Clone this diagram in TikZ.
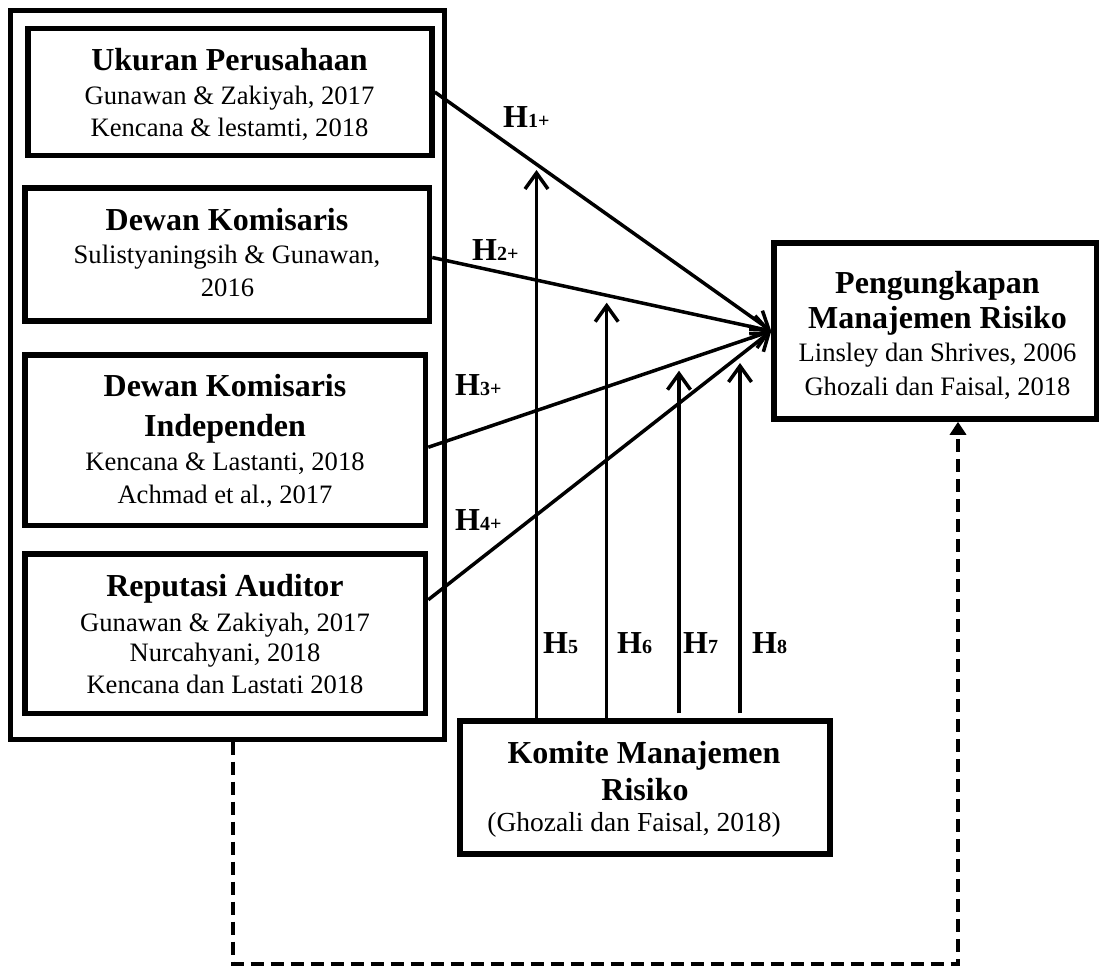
\documentclass[tikz,border=0pt]{standalone}
\usepackage{fontspec}
\setmainfont{Liberation Serif}
\usetikzlibrary{arrows.meta,calc}
\newcommand\TitleFont{\fontsize{32}{38}\selectfont\bfseries}
\newcommand\BodyFont{\fontsize{26.6}{32}\selectfont}
\newcommand\CiteFont{\fontsize{27.5}{32}\selectfont}
\newcommand\SubFont{\fontsize{20}{24}\selectfont\bfseries}
\newcommand\Hlab[1]{H{\SubFont #1}}
\begin{document}
\begin{tikzpicture}[x=1pt,y=-1pt]
\tikzset{
  frame/.style={draw, line width=5.5pt, inner sep=0pt},
  ttl/.style={anchor=base, inner sep=0pt, font=\TitleFont},
  txt/.style={anchor=base, inner sep=0pt, font=\BodyFont},
  lab/.style={anchor=base west, inner sep=0pt, font=\TitleFont},
  arr/.style={line width=3.5pt, -{Straight Barb[length=16pt,width=23pt]}},
  dsh/.style={line width=4pt, dash pattern=on 13pt off 7pt, -{Triangle[length=13pt,width=16pt]}}
}
\useasboundingbox (0,0) rectangle (1099,967);

% boxes
\node[frame, line width=5pt, minimum width=433.5pt, minimum height=728.5pt] (outer) at (227.25,374.75) {};
\node[frame, minimum width=404pt, minimum height=127pt] (b1) at (230,92) {};
\node[frame, minimum width=404.5pt, minimum height=133pt] (b2) at (227.25,254.5) {};
\node[frame, minimum width=400.5pt, minimum height=170.5pt] (b3) at (225.25,440.25) {};
\node[frame, minimum width=400.5pt, minimum height=159.5pt] (b4) at (225.25,633.75) {};
\node[frame, minimum width=323pt, minimum height=176pt] (tgt) at (935.5,331) {};
\node[frame, minimum width=370pt, minimum height=133pt] (kmt) at (645,787.5) {};

% texts
\node[ttl] (b1t) at (229.5,70.7) {Ukuran Perusahaan};
\node[txt] (b1a) at (229.5,104) {Gunawan \& Zakiyah, 2017};
\node[txt] (b1b) at (229.5,136.7) {Kencana \& lestamti, 2018};

\node[ttl] (b2t) at (227,230) {Dewan Komisaris};
\node[txt] (b2a) at (227,263) {Sulistyaningsih \& Gunawan,};
\node[txt] (b2b) at (227.5,296.7) {2016};

\node[ttl] (b3t) at (225,396.7) {Dewan Komisaris};
\node[ttl] (b3u) at (225,436.7) {Independen};
\node[txt] (b3a) at (225,470.7) {Kencana \& Lastanti, 2018};
\node[txt] (b3b) at (225,503) {Achmad et al., 2017};

\node[ttl] (b4t) at (225,596.7) {Reputasi Auditor};
\node[txt] (b4a) at (225,631.7) {Gunawan \& Zakiyah, 2017};
\node[txt] (b4b) at (225,661.7) {Nurcahyani, 2018};
\node[txt] (b4c) at (225,693.3) {Kencana dan Lastati 2018};

\node[ttl] (tgtt) at (937.5,293.3) {Pengungkapan};
\node[ttl] (tgtu) at (937.5,328.3) {Manajemen Risiko};
\node[txt] (tgta) at (937.5,361.7) {Linsley dan Shrives, 2006};
\node[txt] (tgtb) at (937.5,395) {Ghozali dan Faisal, 2018};

\node[ttl] (kmtt) at (644,763.3) {Komite Manajemen};
\node[ttl] (kmtu) at (645,800) {Risiko};
\node[txt, font=\CiteFont] (kmta) at (634,831.7) {(Ghozali dan Faisal, 2018)};

% hypothesis arrows
\draw[arr] (b1.east) -- (tgt.west);
\draw[arr] ($(b2.east)+(0,3)$) -- (tgt.west);
\draw[arr] ($(b3.east)+(0,7)$) -- (tgt.west);
\draw[arr] ($(b4.east)+(0,-34)$) -- (tgt.west);

\coordinate (t5) at (536.5,170);
\coordinate (t6) at (606.7,302.7);
\coordinate (t7) at (679,370.7);
\coordinate (t8) at (740,363);
\draw[arr] (kmt.north -| t5) -- (t5);
\draw[arr] (kmt.north -| t6) -- (t6);
\draw[arr, shorten <=5pt] (kmt.north -| t7) -- (t7);
\draw[arr, shorten <=5pt] (kmt.north -| t8) -- (t8);

% dashed connector
\coordinate (dl) at (233,964);
\coordinate (dr) at (958,964);
\draw[dsh] (outer.south -| dl) -- (dl) -- (dr) -- (tgt.south -| dr);

% labels
\node[lab] (h1) at (503,127) {\Hlab{1+}};
\node[lab] (h2) at (472,260) {\Hlab{2+}};
\node[lab] (h3) at (455,395) {\Hlab{3+}};
\node[lab] (h4) at (455,530) {\Hlab{4+}};
\node[lab] (h5) at (543,653) {\Hlab{5}};
\node[lab] (h6) at (617,653) {\Hlab{6}};
\node[lab] (h7) at (683,653) {\Hlab{7}};
\node[lab] (h8) at (752,653) {\Hlab{8}};
\end{tikzpicture}
\end{document}
